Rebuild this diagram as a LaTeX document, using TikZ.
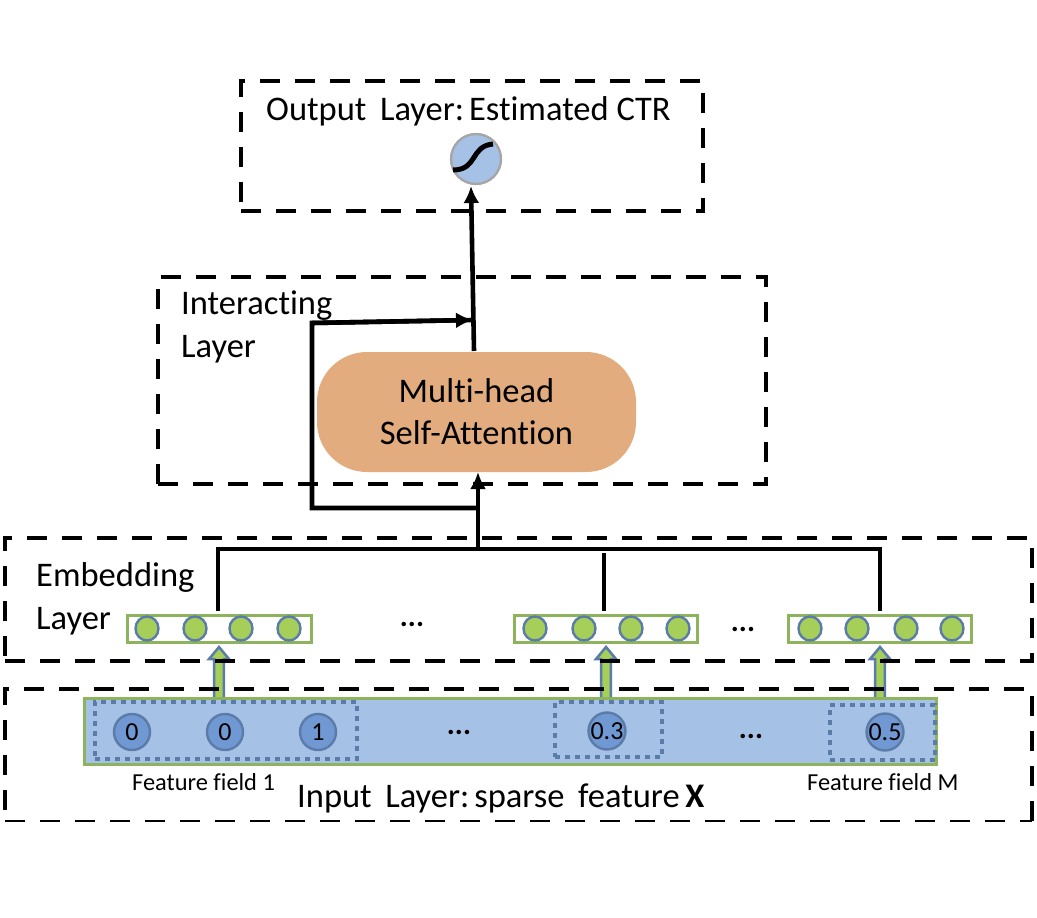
\documentclass[tikz,border=0pt]{standalone}
\usepackage{fontspec}
\setmainfont[Ligatures=CommonOff]{Carlito}
\usetikzlibrary{arrows.meta,shapes.geometric}
\definecolor{lineblue}{HTML}{5B7BA8}
\definecolor{barblue}{HTML}{A6C1E6}
\definecolor{cellblue}{HTML}{7098D2}
\definecolor{leaf}{HTML}{A5CF58}
\definecolor{leafedge}{HTML}{8DB45C}
\definecolor{attn}{HTML}{E2AC7F}
\tikzset{
  layerbox/.style={draw=black,line width=4.4,dash pattern=on 20 off 15,inner sep=0,minimum width=#1},
  bigtxt/.style={anchor=base west,inner sep=0,font=\fontsize{34.5}{34}\selectfont},
  labtxt/.style={anchor=base west,inner sep=0,font=\fontsize{34.5}{34}\selectfont},
  midtxt/.style={anchor=base west,inner sep=0,font=\fontsize{24.4}{24}\selectfont},
  dotstxt/.style={inner sep=0,font=\bfseries\fontsize{30}{30}\selectfont},
  embbox/.style={draw=leafedge,line width=3,fill=white,inner sep=0,minimum height=27,minimum width=#1},
  leafcell/.style={ellipse,draw=lineblue,line width=2.4,fill=leaf,inner sep=0,minimum width=23,minimum height=24},
  inputcell/.style={circle,draw=lineblue,line width=2.4,fill=cellblue,inner sep=0,minimum size=36,font=\fontsize{26}{26}\selectfont},
  fieldbox/.style={draw=lineblue,line width=4,dash pattern=on 5 off 5,inner sep=0},
  flow/.style={draw=black,line width=4.6,line join=miter},
  flowtip/.style={flow,-{Latex[length=17,width=16]}},
  hollow/.style={draw=lineblue,fill=leaf,line width=2.5,line join=miter},
}
\begin{document}
\begin{tikzpicture}[x=1pt,y=-1pt]
\useasboundingbox (0,0) rectangle (1037,918);
% hollow arrows (lie beneath the dashed frames)
\coordinate (h1b) at (219,647);
\coordinate (h2b) at (606,647);
\coordinate (h3b) at (880,647);
\foreach \h in {h1b,h2b,h3b}
  \draw[hollow,shift={(\h)}] (0,0) -- (10,12) -- (4.8,12) -- (4.8,54) -- (-4.8,54) -- (-4.8,12) -- (-10,12) -- cycle;
% layer frames
\node[layerbox=462,minimum height=130] (outputL) at (472,146) {};
\node[layerbox=608,minimum height=207] (interL) at (462,380.5) {};
\node[layerbox=1027,minimum height=123] (embedL) at (518.5,599.5) {};
\draw[line width=4.4,dash pattern=on 20 off 15] (1032,821) -- (1032,689) -- (5,689) -- (5,821);
\draw[line width=2.8,dash pattern=on 20 off 15] (5,821) -- (1032,821);
% output layer
\node[bigtxt] (outT) at (266,120) {Output\, Layer:\kern5pt Estimated CTR};
\node[circle,draw=black!35,line width=2.4,fill=barblue,inner sep=0,minimum size=50] (sig) at (476,159) {};
\draw[line width=5,black] (453,170) .. controls (478,170) and (470,146) .. (493,144);
% interacting layer
\node[labtxt] (intT1) at (181,314) {Interacting};
\node[labtxt] (intT2) at (181,357) {Layer};
\node[draw=none,fill=attn,rounded corners=50,inner sep=0,minimum width=319,minimum height=120,align=center,font=\fontsize{34.5}{42}\selectfont] (mhsa) at (476.5,412) {Multi-head\\Self-Attention};
% embedding layer
\node[labtxt] (embT1) at (36,586) {Embedding};
\node[labtxt] (embT2) at (36,629) {Layer};
\node[embbox=184] (e1) at (219,628.5) {};
\node[embbox=183] (e2) at (606,628.5) {};
\node[embbox=183] (e3) at (880,628.5) {};
\foreach \n/\x in {a/147,b/195,c/241,d/289,e/535,f/584,g/631,h/678,i/810,j/857,k/906,l/952}
  \node[leafcell] (leaf\n) at (\x,628.5) {};
\node[dotstxt] (dotsE1) at (412,624) {...};
\node[dotstxt] (dotsE2) at (743,629) {...};
% input layer
\node[draw=leafedge,line width=3,fill=barblue,inner sep=0,minimum width=852,minimum height=66] (bar) at (510,731) {};
\node[fieldbox,minimum width=262,minimum height=57] (f1) at (226,730.5) {};
\node[fieldbox,minimum width=107,minimum height=55] (f2) at (608.5,729.5) {};
\node[fieldbox,minimum width=105,minimum height=55] (f3) at (882.5,732.5) {};
\node[inputcell] (c1) at (132,732) {0};
\node[inputcell] (c2) at (225,732) {0};
\node[inputcell] (c3) at (318,732) {1};
\node[inputcell] (c4) at (607,731) {0.3};
\node[inputcell] (c5) at (885,732) {0.5};
\node[dotstxt] (dotsI1) at (459,732) {...};
\node[dotstxt] (dotsI2) at (751,736) {...};
\node[midtxt] (ff1) at (132,790) {Feature field 1};
\node[midtxt] (ffM) at (807,790) {Feature field M};
\node[bigtxt] (inT) at (297,807) {Input\, Layer:\kern5pt sparse\, feature\,\textbf{X}};
% connectors
\coordinate (up1) at (218,611);
\coordinate (up2) at (604,611);
\coordinate (up3) at (880,611);
\coordinate (barL) at (218,549);
\coordinate (barM) at (604,553);
\coordinate (barR) at (880,549);
\coordinate (jn) at (478,549);
\coordinate (jf) at (478,508);
\coordinate (fbA) at (312,508);
\coordinate (fbB) at (312,323);
\coordinate (fbC) at (473,320);
\coordinate (mhTop) at (474,351);
\coordinate (mhBot) at (478,472);
\coordinate (sigB) at (471,186);
\draw[flow] (up1) -- (barL) -- (barR) -- (up3);
\draw[flow] (up2) -- (barM);
\draw[flowtip] (jn) -- (mhBot);
\draw[flow] (jf) -- (fbA) -- (fbB) -- (fbC);
\draw[flowtip] (fbB) -- (fbC);
\draw[flowtip] (mhTop) -- (sigB);
\end{tikzpicture}
\end{document}
